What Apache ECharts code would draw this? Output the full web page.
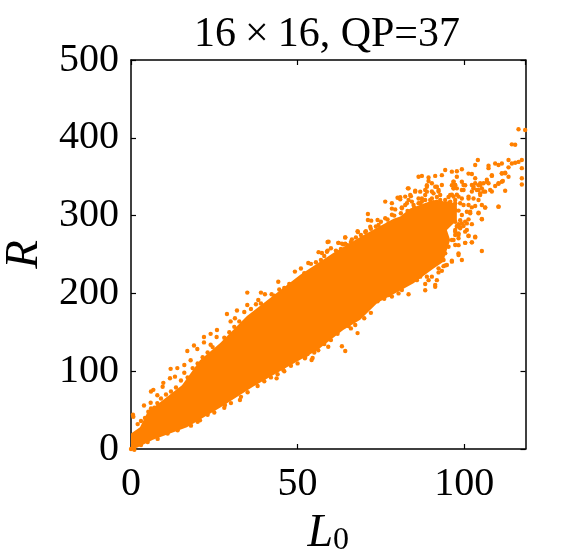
<!DOCTYPE html>
<html>
<head>
<meta charset="utf-8">
<script src="https://cdn.jsdelivr.net/npm/echarts@6/dist/echarts.min.js"></script>
<style>
  html, body { margin: 0; padding: 0; background: #fff; }
  #chart { width: 580px; height: 560px; }
</style>
</head>
<body>
<div id="chart"></div>
<script>
var xTicks = [0, 50, 100];
var yTicks = [0, 100, 200, 300, 400, 500];

// outline of the solid part of the cloud as [L0, R]
var solidTop = [[0,0],[0,20],[2.7,28],[5,48],[9.6,63],[15.3,82],[20.7,114],[26.7,136],[34.8,171],[40.8,191],[50.8,224],[60.7,252],[69.8,275],[78.8,296],[80.8,299],[83.8,309],[90.8,320],[93.8,318],[97.8,316]];
var solidBottom = [[97.8,294],[94.8,281.5],[95.8,268.6],[94.3,249.4],[93.8,240.8],[90.8,232],[84.8,213],[81.8,206],[74,188],[68.8,166],[63.7,153],[55.9,127],[46.8,105],[36.6,80],[26.7,53],[16.8,28],[6.6,12],[1.8,1.5]];

// dots that roughen the edges of the solid part
var edgeTop = [[2,32],[3,36],[4.2,40],[6,52],[7,53],[8.5,56],[9,65],[10.5,70],[12,74],[13.5,79],[15,88],[17,92],[18.5,104],[20,110],[21.5,118],[23,124],[24.5,131],[28,143],[29.5,150],[31,157],[32.5,164],[34,176],[36,180],[37.5,186],[39,187],[43,197],[44.5,205],[46,207],[47.5,212],[51,232],[52,226],[54,238],[55.5,240],[57,243],[58,248],[60,258],[61.5,255],[63,257],[65,262],[66,266],[67.5,272],[69,275],[70.5,280],[72,283],[73.5,286],[75,292],[77,295],[79,300],[81,303],[83,306],[85,310]];
var edgeBottom = [[0,0],[1,-1],[3,5],[5,9],[8,13],[11,20],[14,24],[18,30],[20,35],[23,44],[25,47],[28,53],[30,59],[33,67],[35,73],[38,81],[40,87],[42,92],[44,96],[46,100],[48,107],[50,110],[53,122],[55,124],[58,135],[60,140],[62,148],[66,155],[70,168],[72,175],[74,190],[76,193]];

// loose dots above the cloud
var looseAbove = [[0.7,41.5],[0.6,44],[3.9,56],[5.9,59.5],[7.9,59],[5.2,48],[6.7,76],[6,74],[7.9,69],[9.7,85],[11.9,103],[13.9,104],[16,108],[16,98],[11.7,91],[13.2,93],[9.5,80],[16.9,126],[18.9,133],[19.9,128.5],[17.9,114],[21.9,144],[21.9,137],[23.9,148],[25.8,153],[25.7,144],[23.9,134],[28.8,173.5],[29.9,164],[31.8,178],[31.2,168],[34.9,201],[34.9,185],[39,201],[40.2,199],[42.2,199],[38.2,191.5],[41.7,189],[44.2,215],[49.2,228],[53.2,239],[56.3,253],[59,266],[59,255],[62.2,265],[64.3,272],[68,280],[63.7,263]];

// loose dots below the cloud
var looseBelow = [[54.2,114.4],[52.2,116.5],[56.2,127],[45.7,101.5],[43.7,90.8],[32.7,63],[28.2,56.5],[20.7,37],[63.3,132],[64.3,126],[68,149],[67.3,159.4],[65.3,158],[59.2,131.5],[52.3,118.6],[54.5,117]];

// the sparse upper right end
var looseTail = [[116.3,411],[118.3,410],[114.3,391.6],[115.3,391],[117.3,371.5],[115.3,368],[113.3,371.5],[116.3,369],[114.3,367],[117.3,361],[117.3,348],[117.3,340],[113.3,362],[111.3,367],[109.3,367],[110.3,365],[111.3,354],[112.3,355],[107.3,364],[107.3,361],[104.1,371.5],[103.3,365],[113.3,350],[111.6,344.5],[110.3,341],[108.3,352],[106.8,346],[107.3,341.5],[105.8,341.5],[104.8,339],[108.3,331],[112.3,332],[110.3,311.5],[105.3,295.6],[105.3,254.5],[101.3,354],[102.3,353.5],[103.3,348],[99.3,359.5],[97.8,357],[96.3,356.5],[97.8,350],[94.3,358.6],[91.3,351],[93.3,352],[87.3,351],[86.3,350],[89.3,349],[89.3,344.5],[96.8,343.6],[97.3,339],[96.3,339],[99.3,343.6],[100.3,339],[99.8,333],[96.8,335],[102.8,337],[104.3,339],[103.8,333],[105.3,335],[102.3,331],[104.8,326.5],[105.8,331],[104.3,320],[103.3,312.3],[102.3,310.6],[101.3,322],[101.8,303],[104.3,303],[106.3,310.6],[100.8,305],[98.8,294],[99.3,322],[97.8,327],[96.3,327],[95.3,324],[97.3,320],[88.8,339],[91.3,337],[90.3,331],[92.3,331],[88.3,333],[85.3,332],[83.1,335],[88.3,326.5],[91.8,324],[90.3,322],[80.8,323.5],[80,323],[84,325],[86.3,322],[83.3,320],[76.3,318],[78.3,316],[82.3,313.6],[84.3,318],[87.3,318],[86.3,316],[81.3,310.6],[78.3,309],[79.3,308],[71.1,302],[78.3,301],[76.3,296.5],[71.1,294.4],[72.1,293.5],[74,294.4],[71.8,285.8],[74.3,288],[77.3,290],[75.3,283.6],[68.1,279],[70.3,279],[64.3,272],[59.3,266.5],[62.3,265],[63.3,264],[64.3,264],[66.3,269.5],[67.3,262],[57.3,252],[58.8,253.6],[103.3,273],[101.3,273.8],[100.3,265],[102.3,265.6],[100.8,281.5],[98.3,289],[99.8,286.6],[100.8,290],[102.3,289],[98.3,275],[98.3,262],[97.3,281.5],[98.3,251.5],[99.3,243],[96.3,242],[94.8,236.5],[94.3,236],[93.3,229],[92.3,227],[91.8,217],[91.3,211],[91.3,208.6],[88.3,204],[88.3,212],[89.3,217],[86.8,221.5],[85.8,217],[83.3,199],[80.3,200],[81.3,204.4],[78.3,196],[77.3,198],[88.8,221.5],[90.3,221.5],[96.8,268.6],[97.3,275],[96.3,268.6],[97.8,285.8],[98.8,283.7],[97.3,292],[95.3,298.6],[96.3,305],[97.3,307],[98.3,306.4],[95.3,316],[92.8,320],[94.3,320],[90.8,316],[91.8,313.6],[88.8,311.5],[95.3,260],[94.3,251.5],[93.8,243]];

// clumps between the solid part and the tail
var looseClumps = [[88.8,337],[90.3,341.5],[91.8,337],[93.3,339.3],[96.8,343.6],[97.3,339.3],[99.8,339.3],[96.8,335],[97.8,335],[99.3,333],[102.3,339.3],[103.3,341.5],[104.8,341.5],[102.8,335],[104.3,333],[104.8,328.6],[106.8,343.6],[108.3,351],[111.3,354.4],[112.3,354.4],[110.3,341.5],[111.3,343.6],[106.3,330.8],[107.8,333],[109.3,338],[80.8,321],[82.3,324.4],[83.8,326.5],[85.3,330.8],[83.3,335],[86.8,330.8],[87.3,322],[88.8,330.8],[90.8,328.6],[92.3,333],[92.8,326.5],[95.8,326.5],[96.8,324.4],[98.3,324.4],[101.3,324.4],[102.8,322],[95.8,318],[97.3,315.8],[98.8,315.8],[99.8,313.6],[101.3,313.6],[105.3,313.6],[106.3,310.2],[110.3,311.5],[101.8,305],[104.3,303.8],[99.3,300.8],[96.8,311.5],[105.3,295.2],[101.3,295.2],[100.3,292.2],[99.3,290],[97.8,286.6],[98.8,285],[97.3,279.4],[98.3,277.2],[100.3,279.4],[101.3,274.2],[103.3,272],[102.3,265.6],[100.3,265],[98.3,270.8],[97.3,262.2],[98.3,249.4],[96.3,240.8],[93.8,235],[92.3,232.2],[88.3,320],[89.8,320],[86.8,315.8],[84.8,313.6],[82.8,315.8],[81.3,309.4],[91.8,318],[93.3,315.8]];

var ink = '#000';
var orange = '#ff8000';
var serif = '"Liberation Serif", serif';

var chart = echarts.init(document.getElementById('chart'), null, { renderer: 'canvas' });

function boxAxis(extra) {
  var axis = {
    type: 'value',
    min: 0,
    axisLine: { show: true, onZero: false, lineStyle: { color: ink, width: 1.5 } },
    axisTick: { show: true, inside: true, length: 5, lineStyle: { color: ink, width: 1.2 } },
    axisLabel: { show: false },
    splitLine: { show: false }
  };
  return Object.assign(axis, extra);
}

var tickLabel = { show: true, color: ink, fontFamily: serif, fontSize: 40 };

chart.setOption({
  animation: false,
  title: {
    text: '16{x|×}16, QP=37',
    left: 322,
    top: 9,
    textAlign: 'center',
    textStyle: {
      color: ink, fontFamily: serif, fontSize: 42, fontWeight: 'normal',
      rich: { x: { fontFamily: serif, fontSize: 42, color: ink, padding: [0, 9, 0, 9] } }
    }
  },
  grid: { left: 131, right: 54.5, top: 60, bottom: 111, outerBoundsMode: 'none' },
  xAxis: [
    boxAxis({
      position: 'bottom',
      max: 118.4,
      interval: xTicks[1] - xTicks[0],
      axisLabel: Object.assign({}, tickLabel, { margin: 15, showMaxLabel: false }),
      name: '{i|L}{s|0}',
      nameLocation: 'middle',
      nameGap: 62,
      nameTextStyle: {
        rich: {
          i: { fontFamily: serif, fontStyle: 'italic', fontSize: 46, color: ink },
          s: { fontFamily: serif, fontSize: 32, color: ink, padding: [14, 0, 0, 0] }
        }
      }
    }),
    boxAxis({ position: 'top', max: 118.4, interval: xTicks[1] - xTicks[0] })
  ],
  yAxis: [
    boxAxis({
      position: 'left',
      max: yTicks[yTicks.length - 1],
      interval: yTicks[1] - yTicks[0],
      axisLabel: Object.assign({}, tickLabel, { margin: 12 }),
      name: 'R',
      nameLocation: 'middle',
      nameGap: 83,
      nameRotate: 90,
      nameTextStyle: { color: ink, fontFamily: serif, fontStyle: 'italic', fontSize: 47 }
    }),
    boxAxis({ position: 'right', max: yTicks[yTicks.length - 1], interval: yTicks[1] - yTicks[0] })
  ],
  series: [
    {
      type: 'custom',
      silent: true,
      data: [[0, 0]],
      z: 1,
      renderItem: function (params, api) {
        var outline = solidTop.concat(solidBottom).map(function (p) { return api.coord(p); });
        return { type: 'polygon', shape: { points: outline }, style: { fill: orange } };
      }
    },
    {
      type: 'scatter',
      silent: true,
      clip: false,
      symbol: 'circle',
      symbolSize: 4.4,
      z: 2,
      itemStyle: { color: orange, opacity: 1 },
      data: edgeTop.concat(edgeBottom, looseAbove, looseBelow, looseTail, looseClumps)
    }
  ]
});
</script>
</body>
</html>
